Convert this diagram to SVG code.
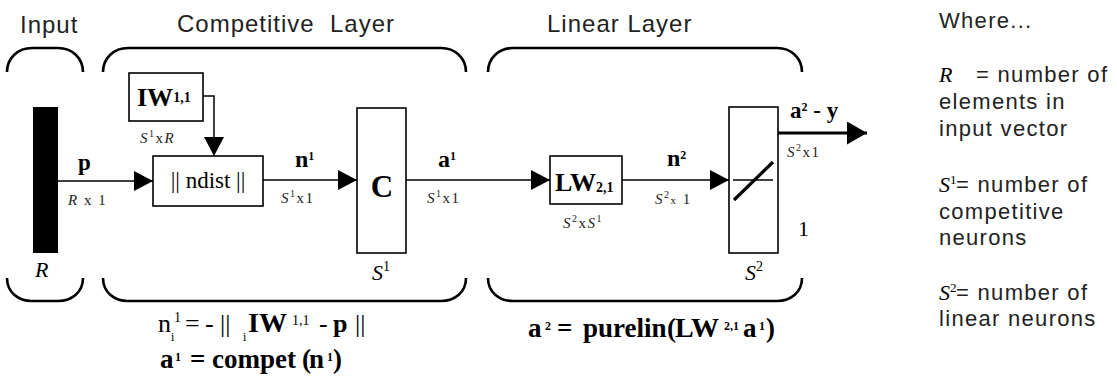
<svg xmlns="http://www.w3.org/2000/svg" width="1117" height="381" viewBox="0 0 1117 381">
<style>
.sans{font-family:"Liberation Sans",Arial,sans-serif;fill:#222;font-size:24px;letter-spacing:1px}
.side{font-family:"Liberation Sans",Arial,sans-serif;fill:#222;font-size:22px;letter-spacing:1.3px}
.serif{font-family:"Liberation Serif","Times New Roman",serif;fill:#000}
.b{font-weight:bold}
.it{font-style:italic}
.dim{font-family:"Liberation Serif","Times New Roman",serif;fill:#222;font-size:15px;letter-spacing:1.5px}
.brace{fill:none;stroke:#000;stroke-width:2.6}
.box{fill:#fff;stroke:#000;stroke-width:1.6}
.ln{fill:none;stroke:#000;stroke-width:1.5}
</style>
<defs>
<marker id="ah" markerUnits="userSpaceOnUse" markerWidth="19" markerHeight="20" refX="19" refY="10" orient="auto">
<path d="M0,0 L19,10 L0,20 Z" fill="#000"/>
</marker>
<marker id="ahb" markerUnits="userSpaceOnUse" markerWidth="20" markerHeight="23" refX="20" refY="11.5" orient="auto">
<path d="M0,0 L20,11.5 L0,23 Z" fill="#000"/>
</marker>
</defs>

<g id="titles">
<text class="sans" x="20" y="33">Input</text>
<text class="sans" x="177" y="32">Competitive</text>
<text class="sans" x="330" y="32">Layer</text>
<text class="sans" x="547" y="32" letter-spacing="1.3">Linear Layer</text>
</g>

<g id="braces">
<path class="brace" d="M7,72 C7,58 18,48 32,48 L58,48 C72,48 83,58 83,72"/>
<path class="brace" d="M103,72 C103,58 114,48 128,48 L441,48 C455,48 466,58 466,72"/>
<path class="brace" d="M488,72 C488,58 499,48 513,48 L777,48 C791,48 802,58 802,72"/>
<path class="brace" d="M7,278 C7,292 18,301 32,301 L58,301 C72,301 83,292 83,278"/>
<path class="brace" d="M103,278 C103,292 114,301 128,301 L441,301 C455,301 466,292 466,278"/>
<path class="brace" d="M488,278 C488,292 499,301 513,301 L777,301 C791,301 802,292 802,278"/>
</g>

<g id="connectors">
<path class="ln" d="M58,181 H153" marker-end="url(#ah)"/>
<path class="ln" d="M203,96 H214 V156" marker-end="url(#ah)"/>
<path class="ln" d="M263,180 H357" marker-end="url(#ah)"/>
<path class="ln" d="M406,180 H550" marker-end="url(#ah)"/>
<path class="ln" d="M622,180 H729" marker-end="url(#ah)"/>
<path d="M778,133 H867" fill="none" stroke="#000" stroke-width="3.2" marker-end="url(#ahb)"/>
</g>

<g id="input">
<rect x="33" y="107" width="25" height="146" fill="#000"/>
<text class="serif it" x="35" y="277" font-size="22">R</text>
<text class="serif b" x="78" y="170" font-size="23">p</text>
<text class="dim" x="68" y="205"><tspan class="it">R</tspan> x 1</text>
</g>

<g id="IW">
<rect class="box" x="129" y="73" width="74" height="48"/>
<text class="serif b" x="137" y="106" font-size="26">IW<tspan font-size="14" dy="-4">1,1</tspan></text>
<text class="dim" x="140" y="143"><tspan class="it">S</tspan><tspan font-size="10" dy="-6">1</tspan><tspan dy="6">x</tspan><tspan class="it">R</tspan></text>
</g>

<g id="ndist">
<rect class="box" x="153" y="156" width="110" height="50"/>
<text class="serif" x="208" y="188" font-size="23" text-anchor="middle">|| ndist ||</text>
</g>

<g id="n1">
<text class="serif b" x="295" y="167" font-size="24">n<tspan font-size="12" dy="-7">1</tspan></text>
<text class="dim" x="281" y="203"><tspan class="it">S</tspan><tspan font-size="10" dy="-6">1</tspan><tspan dy="6">x1</tspan></text>
</g>

<g id="C">
<rect class="box" x="357" y="108" width="49" height="145"/>
<text class="serif b" x="382" y="197" font-size="31" text-anchor="middle">C</text>
<text class="serif it" x="372" y="280" font-size="22">S<tspan font-size="14" dy="-9" font-style="normal">1</tspan></text>
</g>

<g id="a1">
<text class="serif b" x="438" y="167" font-size="24">a<tspan font-size="12" dy="-7">1</tspan></text>
<text class="dim" x="427" y="203"><tspan class="it">S</tspan><tspan font-size="10" dy="-6">1</tspan><tspan dy="6">x1</tspan></text>
</g>

<g id="LW">
<rect class="box" x="550" y="156" width="72" height="48"/>
<text class="serif b" x="555" y="191" font-size="26">LW<tspan font-size="14" dy="1">2,1</tspan></text>
<text class="dim" x="563" y="228"><tspan class="it">S</tspan><tspan font-size="10" dy="-6">2</tspan><tspan dy="6">x</tspan><tspan class="it">S</tspan><tspan font-size="10" dy="-6">1</tspan></text>
</g>

<g id="n2">
<text class="serif b" x="667" y="166" font-size="24">n<tspan font-size="12" dy="-7">2</tspan></text>
<text class="dim" x="655" y="204"><tspan class="it">S</tspan><tspan font-size="10" dy="-6">2</tspan><tspan font-size="11" dy="6">x</tspan> 1</text>
</g>

<g id="purelin">
<rect class="box" x="729" y="107" width="49" height="146"/>
<line class="ln" x1="733" y1="180" x2="773" y2="180"/>
<line x1="734" y1="200" x2="773" y2="162" stroke="#000" stroke-width="3.2"/>
<text class="serif it" x="745" y="280" font-size="22">S<tspan font-size="14" dy="-9" font-style="normal">2</tspan></text>
<text class="serif" x="798" y="236" font-size="22">1</text>
</g>

<g id="output">
<text class="serif b" x="790" y="118" font-size="23">a<tspan font-size="12" dy="-7">2</tspan><tspan dy="7"> - y</tspan></text>
<text class="dim" x="787" y="157"><tspan class="it">S</tspan><tspan font-size="10" dy="-6">2</tspan><tspan dy="6">x1</tspan></text>
</g>

<g id="formulas">
<text class="serif" font-size="26" y="332"><tspan x="158">n</tspan><tspan font-size="12" x="171" y="341">i</tspan><tspan font-size="14" x="174" y="322">1</tspan><tspan x="185" y="332">=</tspan><tspan x="205">-</tspan><tspan x="220">||</tspan><tspan font-size="12" x="243" y="341">i</tspan><tspan class="b" font-size="28" x="248" y="332">IW</tspan><tspan font-size="14" x="292" y="325">1,1</tspan><tspan x="319" y="332">-</tspan><tspan class="b" x="333">p</tspan><tspan x="355">||</tspan></text>
<text class="serif b" font-size="27" y="368"><tspan x="160">a</tspan><tspan font-size="12" x="175" y="361">1</tspan><tspan x="190" y="368">=</tspan><tspan x="212">compet</tspan><tspan x="302">(</tspan><tspan x="309">n</tspan><tspan font-size="12" x="327" y="361">1</tspan><tspan x="333" y="368">)</tspan></text>
<text class="serif b" font-size="27" y="337"><tspan x="528">a</tspan><tspan font-size="12" x="545" y="330">2</tspan><tspan x="557" y="337">=</tspan><tspan x="583">purelin</tspan><tspan x="667">(</tspan><tspan font-size="28" x="675">LW</tspan><tspan font-size="12" x="724" y="330">2,1</tspan><tspan x="743" y="337">a</tspan><tspan font-size="12" x="759" y="330">1</tspan><tspan x="766" y="337">)</tspan></text>
</g>

<g id="legend">
<text class="side" x="939" y="28">Where...</text>
<text class="serif it" x="939" y="82" font-size="22">R</text>
<text class="side" x="976" y="82">= number of</text>
<text class="side" x="939" y="109">elements in</text>
<text class="side" x="939" y="136">input vector</text>
<text class="serif it" x="939" y="192" font-size="22">S<tspan font-size="13" dy="-8" font-style="normal">1</tspan></text>
<text class="side" x="956" y="192">= number of</text>
<text class="side" x="939" y="219">competitive</text>
<text class="side" x="939" y="245">neurons</text>
<text class="serif it" x="939" y="300" font-size="22">S<tspan font-size="13" dy="-8" font-style="normal">2</tspan></text>
<text class="side" x="956" y="300">= number of</text>
<text class="side" x="939" y="326">linear neurons</text>
</g>
</svg>
